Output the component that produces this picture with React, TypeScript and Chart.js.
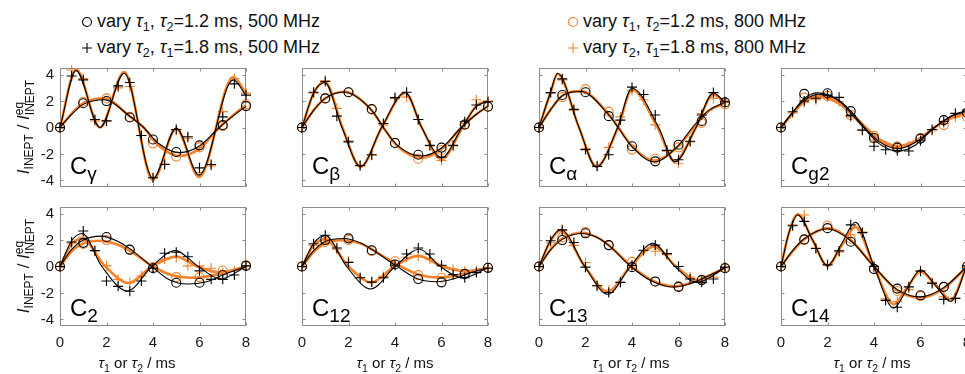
import React, { useEffect, useRef } from 'react';
import { Chart, registerables } from 'chart.js';

Chart.register(...registerables);

const FONT = '"Liberation Sans", Arial, Helvetica, sans-serif';
const ORANGE = '#F5822A';
const INK = '#000000';
const FRAME = '#8c8c8c';
const LABEL = '#1a1a1a';

// ---- axes / sampling ----
const TAU1 = [0, 1, 2, 3, 4, 5, 6, 7, 8];
const TAU2 = [0, 0.5, 1, 1.5, 2, 2.5, 3, 3.5, 4, 4.5, 5, 5.5, 6, 6.5, 7, 7.5, 8];
const X_TICKS = [0, 2, 4, 6, 8];
const Y_TICKS = [-4, -2, 0, 2, 4];
const X_MIN = 0, X_MAX = 8, Y_MIN = -4.5, Y_MAX = 4.5;

// ---- C gamma ----
const gammaCircK = [0, 1.83, 2.0, 0.76, -0.91, -1.85, -1.35, 0.18, 1.62];
const gammaCircO = [0, 1.95, 2.2, 0.8, -1.2, -2.2, -1.5, 0.1, 1.75];
const gammaPlusK = [0, 3.9, 3.6, 0.6, 0.5, 3.15, 3.4, -0.6, -3.8, -2.8, -0.15, -0.7, -3.05, -2.8, 0.8, 3.3, 2.45];
const gammaPlusO = [0, 4.35, 3.7, 0.5, 0.5, 3.0, 3.1, -0.6, -3.8, -2.75, -0.2, -0.8, -3.4, -2.9, 1.2, 3.7, 2.6];
const gammaFitCircK = [[0, 0], [0.5, 1.0], [1, 1.75], [1.9, 2.1], [3, 0.85], [3.6, 0], [4.2, -1.15], [5.15, -1.9], [6, -1.4], [6.85, 0], [7.5, 0.95], [8, 1.6]];
const gammaFitCircO = [[0, 0], [0.5, 1.05], [1, 1.85], [1.9, 2.2], [3, 0.85], [3.6, 0], [4.2, -1.3], [5.15, -2.15], [6, -1.6], [6.85, 0], [7.5, 1.0], [8, 1.7]];
const gammaFitPlusK = [[0, 0], [0.69, 4.3], [1.72, 0.0], [2.76, 4.1], [4.0, -3.85], [5.0, -0.05], [5.98, -3.6], [7.45, 3.6], [8, 2.4]];
const gammaFitPlusO = [[0, 0], [0.69, 4.4], [1.72, 0.0], [2.76, 4.2], [4.0, -3.95], [5.0, -0.1], [5.98, -3.75], [7.45, 3.8], [8, 2.6]];

// ---- C beta ----
const betaCircK = [0, 2.2, 2.67, 1.4, -1.17, -2.06, -1.52, 0.23, 1.57];
const betaCircO = [0, 2.2, 2.67, 1.35, -1.17, -2.36, -1.7, 0.2, 1.6];
const betaPlusK = [0, 2.67, 3.48, 0.86, -1.09, -2.87, -2.06, 0.3, 2.26, 2.67, 0.6, -1.35, -2.23, -1.35, 0.43, 1.7, 1.95];
const betaPlusO = [0, 2.6, 3.55, 1.45, -1.0, -2.9, -2.1, 0.2, 2.2, 2.3, 0.6, -1.4, -2.5, -1.4, 0.3, 2.1, 2.0];
const betaFitCircK = [[0, 0], [0.5, 1.3], [1, 2.2], [1.8, 2.68], [3, 1.3], [3.5, 0], [4.1, -1.35], [5.15, -2.15], [6, -1.55], [6.85, 0], [7.5, 1.0], [8, 1.6]];
const betaFitCircO = [[0, 0], [0.5, 1.3], [1, 2.2], [1.8, 2.7], [3, 1.3], [3.5, 0], [4.1, -1.4], [5.15, -2.3], [6, -1.65], [6.85, 0], [7.5, 1.0], [8, 1.65]];
const betaFitPlusK = [[0, 0], [0.5, 2.6], [0.98, 3.4], [1.72, 0], [2.52, -2.95], [3.42, 0], [4.44, 2.65], [5.15, 0], [6.0, -2.28], [6.88, 0], [7.5, 1.6], [8, 1.95]];
const betaFitPlusO = [[0, 0], [0.5, 2.6], [0.98, 3.45], [1.74, 0], [2.52, -2.98], [3.43, 0], [4.44, 2.6], [5.15, 0], [6.0, -2.4], [6.9, 0], [7.5, 1.65], [8, 2.0]];

// ---- C alpha ----
const alphaCircK = [0, 2.46, 2.67, 0.86, -1.42, -2.56, -1.3, 0.5, 1.9];
const alphaCircO = [0, 2.3, 2.9, 1.2, -1.67, -2.36, -1.5, 0.35, 1.75];
const alphaPlusK = [0, 2.64, 3.68, 1.37, -1.67, -2.94, -2.06, 0.56, 3.05, 2.5, 0.94, -1.73, -2.44, -1.04, 0.94, 2.64, 1.95];
const alphaPlusO = [0, 2.6, 3.6, 1.3, -1.6, -2.9, -1.5, 0.8, 2.8, 2.1, 0.2, -1.8, -2.7, -1.1, 1.05, 2.2, 1.9];
const alphaFitCircK = [[0, 0], [0.5, 1.35], [1, 2.4], [1.8, 2.72], [3, 0.95], [3.4, 0], [4, -1.45], [4.95, -2.6], [6, -1.35], [6.6, 0], [7.3, 1.3], [8, 1.9]];
const alphaFitCircO = [[0, 0], [0.5, 1.35], [1, 2.4], [1.8, 2.75], [3, 1.0], [3.42, 0], [4, -1.4], [4.95, -2.5], [6, -1.4], [6.65, 0], [7.3, 1.25], [8, 1.85]];
const alphaFitPlusK = [[0, 0], [0.5, 2.7], [0.8, 4.1], [1.72, 0], [2.47, -3.0], [3.38, 0], [4.0, 2.97], [5.15, 0], [5.84, -2.6], [6.75, 0], [7.5, 2.6], [8, 1.9]];
const alphaFitPlusO = [[0, 0], [0.5, 2.65], [0.8, 4.05], [1.72, 0], [2.47, -2.95], [3.4, 0], [4.0, 2.85], [5.1, 0], [5.84, -2.55], [6.75, 0], [7.5, 2.5], [8, 1.85]];

// ---- C g2 ----
const g2CircK = [0, 2.54, 2.59, 1.24, -0.79, -1.52, -0.84, 0.56, 1.12];
const g2CircO = [0, 2.26, 2.39, 0.94, -0.63, -1.42, -0.79, 0.18, 0.8];
const g2PlusK = [0, 1.19, 2.0, 2.21, 2.45, 2.28, 0.9, -0.2, -1.42, -1.68, -1.75, -1.78, -1.0, -0.15, 0.45, 1.07, 1.32];
const g2PlusO = [0, 1.1, 1.9, 2.1, 2.3, 1.95, 0.8, -0.2, -1.1, -1.4, -1.5, -1.4, -0.9, -0.25, 0.3, 0.8, 1.1];
const g2FitCircK = [[0, 0], [0.5, 1.15], [1, 2.2], [1.6, 2.62], [2.5, 2.05], [3, 1.25], [3.6, 0], [4.2, -1.05], [5.05, -1.6], [5.8, -1.1], [6.6, 0], [7.4, 0.9], [8, 1.25]];
const g2FitCircO = [[0, 0], [0.5, 1.05], [1, 2.0], [1.6, 2.38], [2.5, 1.85], [3, 1.1], [3.65, 0], [4.2, -0.85], [5.05, -1.4], [5.8, -1.0], [6.6, 0], [7.4, 0.75], [8, 1.05]];
const g2FitPlusK = [[0, 0], [0.5, 1.15], [1, 2.05], [1.6, 2.52], [2.5, 2.0], [3, 1.1], [3.55, 0], [4.2, -1.2], [5.05, -1.78], [5.8, -1.3], [6.6, 0], [7.4, 0.95], [8, 1.3]];
const g2FitPlusO = [[0, 0], [0.5, 1.05], [1, 1.95], [1.6, 2.32], [2.5, 1.8], [3, 1.05], [3.6, 0], [4.2, -0.95], [5.05, -1.45], [5.8, -1.05], [6.6, 0], [7.4, 0.8], [8, 1.1]];

// ---- C 2 ----
const c2CircK = [0, 1.79, 2.23, 1.28, -0.13, -1.23, -1.23, -0.64, 0.05];
const c2CircO = [0, 1.7, 2.0, 1.25, -0.05, -0.8, -0.8, -0.3, 0.1];
const c2PlusK = [0, 1.85, 2.69, 1.2, -1.1, -1.5, -1.87, -1.1, -0.13, 1.0, 1.08, 0.74, -0.33, -0.97, -0.97, -0.64, 0.05];
const c2PlusO = [0, 1.77, 2.23, 1.2, 0.05, -0.97, -1.23, -0.72, -0.1, 0.56, 0.69, 0.05, 0.05, -0.13, -0.46, -0.33, 0.05];
const c2FitCircK = [[0, 0], [0.5, 1.3], [1, 2.0], [1.75, 2.3], [2.5, 1.9], [3, 1.35], [3.95, 0], [4.7, -1.0], [5.5, -1.32], [6.3, -1.15], [7, -0.65], [8, 0]];
const c2FitCircO = [[0, 0], [0.5, 1.15], [1, 1.75], [1.6, 1.95], [2.5, 1.65], [3, 1.2], [4, 0], [4.8, -0.65], [5.7, -0.85], [6.5, -0.7], [7.2, -0.4], [8, 0]];
const c2FitPlusK = [[0, 0], [0.5, 1.95], [0.95, 2.5], [1.8, 0], [2.9, -1.85], [3.95, 0], [4.95, 1.2], [5.95, 0], [6.9, -0.95], [8, 0]];
const c2FitPlusO = [[0, 0], [0.5, 1.7], [0.95, 2.1], [1.95, 0], [2.95, -1.25], [3.95, 0], [5.0, 0.75], [5.9, 0], [6.9, -0.45], [8, 0]];

// ---- C 12 ----
const c12CircK = [0, 2.0, 2.13, 1.23, 0.15, -0.95, -1.2, -0.56, -0.1];
const c12CircO = [0, 1.85, 2.0, 1.15, 0.4, -0.65, -0.85, -0.55, -0.1];
const c12PlusK = [0, 1.72, 2.36, 1.4, 0.3, -0.85, -1.18, -0.85, 0.1, 0.95, 1.4, 0.95, 0.1, -0.6, -0.85, -0.46, -0.13];
const c12PlusO = [0, 1.6, 2.0, 1.3, 0.4, -0.85, -1.15, -0.75, 0.15, 0.7, 0.8, 0.55, 0.0, -0.2, -0.35, -0.3, -0.1];
const c12FitCircK = [[0, 0], [0.5, 1.2], [1, 1.9], [1.8, 2.12], [2.5, 1.8], [3, 1.3], [4.05, 0.05], [5, -0.95], [5.8, -1.15], [6.5, -0.95], [7.2, -0.5], [8, -0.1]];
const c12FitCircO = [[0, 0], [0.5, 1.1], [1, 1.75], [1.7, 1.98], [2.5, 1.75], [3, 1.3], [4.1, 0.15], [5, -0.6], [5.9, -0.82], [6.7, -0.65], [7.3, -0.4], [8, -0.1]];
const c12FitPlusK = [[0, 0], [0.5, 1.75], [1.0, 2.35], [1.92, 0], [2.95, -1.7], [4.0, 0], [5.05, 1.3], [5.95, 0], [6.9, -0.87], [8, -0.1]];
const c12FitPlusO = [[0, 0], [0.5, 1.6], [1.0, 2.05], [2.0, 0], [3.0, -1.2], [4.0, 0.05], [5.0, 0.8], [6.0, 0.05], [7.0, -0.35], [8, -0.1]];

// ---- C 13 ----
const c13CircK = [0, 2.0, 2.51, 1.62, -0.05, -1.13, -1.54, -1.03, -0.13];
const c13CircO = [0, 2.2, 2.6, 1.6, 0.35, -1.15, -1.5, -1.0, -0.1];
const c13PlusK = [0, 1.95, 2.77, 1.82, -0.05, -1.46, -1.97, -1.2, 0.08, 1.23, 1.62, 0.97, 0, -0.95, -1.2, -0.95, -0.05];
const c13PlusO = [0, 1.8, 2.7, 1.6, 0.3, -1.45, -1.8, -1.2, 0.1, 1.2, 1.15, 0.9, 0, -0.8, -1.0, -0.8, -0.1];
const c13FitCircK = [[0, 0], [0.5, 1.25], [1, 2.05], [1.85, 2.5], [2.5, 2.2], [3, 1.6], [3.95, 0], [4.8, -1.05], [5.8, -1.55], [6.6, -1.25], [7.3, -0.7], [8, -0.1]];
const c13FitCircO = [[0, 0], [0.5, 1.3], [1, 2.1], [1.85, 2.55], [2.5, 2.2], [3, 1.6], [4, 0], [4.8, -1.0], [5.8, -1.5], [6.6, -1.2], [7.3, -0.7], [8, -0.1]];
const c13FitPlusK = [[0, 0], [0.5, 2.0], [0.93, 2.8], [1.97, 0], [2.95, -2.1], [3.93, 0], [4.9, 1.75], [5.85, 0], [6.8, -1.2], [8, -0.1]];
const c13FitPlusO = [[0, 0], [0.5, 1.95], [0.93, 2.7], [1.97, 0], [2.95, -1.9], [3.93, 0], [4.95, 1.5], [5.9, 0], [6.85, -1.05], [8, -0.1]];

// ---- C 14 ----
const c14CircK = [0, 2.05, 2.9, 1.87, -0.18, -1.67, -2.18, -1.54, 0];
const c14CircO = [0, 2.0, 3.1, 2.1, -0.2, -1.85, -2.25, -1.55, 0];
const c14PlusK = [0, 3.08, 3.41, 1.36, 0.13, 1.18, 3.15, 2.56, 0, -2.56, -3.08, -1.54, -0.36, -1.28, -2.49, -2.41, 0.05];
const c14PlusO = [0, 3.15, 3.9, 1.4, 0.1, 1.1, 2.4, 2.6, 0, -2.45, -2.65, -1.75, -0.3, -1.2, -2.3, -2.4, 0.05];
const c14FitCircK = [[0, 0], [0.5, 1.2], [1, 2.1], [2.0, 2.85], [3, 1.95], [4, 0], [5, -1.75], [6, -2.3], [7, -1.6], [8, 0]];
const c14FitCircO = [[0, 0], [0.5, 1.15], [1, 2.05], [2.0, 2.9], [3, 2.0], [4, 0], [5, -1.8], [6, -2.35], [7, -1.65], [8, 0]];
const c14FitPlusK = [[0, 0], [0.35, 2.6], [0.72, 3.9], [1.36, 2.0], [2.0, 0.05], [2.6, 1.7], [3.2, 3.35], [4.0, 0], [4.85, -3.15], [5.42, -1.7], [6.0, -0.25], [6.65, -1.45], [7.3, -2.65], [8, 0.1]];
const c14FitPlusO = [[0, 0], [0.35, 2.6], [0.72, 3.95], [1.36, 2.0], [2.0, 0.05], [2.6, 1.55], [3.2, 3.0], [4.0, 0], [4.85, -2.85], [5.42, -1.6], [6.0, -0.4], [6.65, -1.4], [7.3, -2.5], [8, 0.1]];

type PanelData = {
  sub: string;
  circK: number[]; circO: number[]; plusK: number[]; plusO: number[];
  fitCircK: number[][]; fitCircO: number[][]; fitPlusK: number[][]; fitPlusO: number[][];
};

const PANELS: PanelData[] = [
  { sub: 'γ', circK: gammaCircK, circO: gammaCircO, plusK: gammaPlusK, plusO: gammaPlusO, fitCircK: gammaFitCircK, fitCircO: gammaFitCircO, fitPlusK: gammaFitPlusK, fitPlusO: gammaFitPlusO },
  { sub: 'β', circK: betaCircK, circO: betaCircO, plusK: betaPlusK, plusO: betaPlusO, fitCircK: betaFitCircK, fitCircO: betaFitCircO, fitPlusK: betaFitPlusK, fitPlusO: betaFitPlusO },
  { sub: 'α', circK: alphaCircK, circO: alphaCircO, plusK: alphaPlusK, plusO: alphaPlusO, fitCircK: alphaFitCircK, fitCircO: alphaFitCircO, fitPlusK: alphaFitPlusK, fitPlusO: alphaFitPlusO },
  { sub: 'g2', circK: g2CircK, circO: g2CircO, plusK: g2PlusK, plusO: g2PlusO, fitCircK: g2FitCircK, fitCircO: g2FitCircO, fitPlusK: g2FitPlusK, fitPlusO: g2FitPlusO },
  { sub: '2', circK: c2CircK, circO: c2CircO, plusK: c2PlusK, plusO: c2PlusO, fitCircK: c2FitCircK, fitCircO: c2FitCircO, fitPlusK: c2FitPlusK, fitPlusO: c2FitPlusO },
  { sub: '12', circK: c12CircK, circO: c12CircO, plusK: c12PlusK, plusO: c12PlusO, fitCircK: c12FitCircK, fitCircO: c12FitCircO, fitPlusK: c12FitPlusK, fitPlusO: c12FitPlusO },
  { sub: '13', circK: c13CircK, circO: c13CircO, plusK: c13PlusK, plusO: c13PlusO, fitCircK: c13FitCircK, fitCircO: c13FitCircO, fitPlusK: c13FitPlusK, fitPlusO: c13FitPlusO },
  { sub: '14', circK: c14CircK, circO: c14CircO, plusK: c14PlusK, plusO: c14PlusO, fitCircK: c14FitCircK, fitCircO: c14FitCircO, fitPlusK: c14FitPlusK, fitPlusO: c14FitPlusO },
];

// ---- layout ----
const PLOT_LEFT = [60, 302, 539, 781];
const PLOT_TOP = [68, 207];
const PLOT_W = 186;
const PLOT_H = 119;
const PAD_L = 50;
const PAD_T = 8;
const PAD_R = 12;
const PAD_B = [8, 30];
const XTITLE_CX = [137, 395, 631, 872];

const pts = (xs: number[], ys: number[]) => xs.map((x, i) => ({ x, y: ys[i] }));
const knots = (arr: number[][]) => arr.map(([x, y]) => ({ x, y }));

// frame, inward ticks and tick labels, all placed through the chart's own scales
const framePlugin = {
  id: 'frame',
  beforeDatasetsDraw(chart: any) {
    const { ctx, chartArea: a, scales } = chart;
    ctx.save();
    ctx.strokeStyle = FRAME;
    ctx.lineWidth = 1;
    const l = Math.round(a.left) + 0.5;
    const r = Math.round(a.right) - 0.5;
    const t = Math.round(a.top) + 0.5;
    const b = Math.round(a.bottom) - 0.5;
    ctx.strokeRect(l, t, r - l, b - t);
    ctx.beginPath();
    const TL = 3;
    for (const v of X_TICKS) {
      const x = Math.round(scales.x.getPixelForValue(v)) + 0.5;
      ctx.moveTo(x, b); ctx.lineTo(x, b - TL);
      ctx.moveTo(x, t); ctx.lineTo(x, t + TL);
    }
    for (const v of Y_TICKS) {
      const y = Math.round(scales.y.getPixelForValue(v)) + 0.5;
      ctx.moveTo(l, y); ctx.lineTo(l + TL, y);
      ctx.moveTo(r, y); ctx.lineTo(r - TL, y);
    }
    ctx.stroke();

    const opt = chart.options.plugins.frame || {};
    ctx.fillStyle = LABEL;
    ctx.font = '15px ' + FONT;
    if (opt.showX) {
      ctx.textAlign = 'center';
      ctx.textBaseline = 'middle';
      for (const v of X_TICKS) {
        ctx.fillText(String(v), scales.x.getPixelForValue(v), a.bottom + 17);
      }
    }
    if (opt.showY) {
      ctx.textAlign = 'right';
      ctx.textBaseline = 'middle';
      for (const v of Y_TICKS) {
        ctx.fillText(String(v), a.left - 6, scales.y.getPixelForValue(v) + 0.5);
      }
    }
    ctx.restore();
  },
};

function markerSet(data: any, style: string, color: string) {
  return {
    data,
    showLine: false,
    pointStyle: style,
    pointRadius: style === 'circle' ? 4.5 : 5,
    pointBorderWidth: 1.1,
    pointBorderColor: color,
    pointBackgroundColor: 'rgba(0,0,0,0)',
    borderColor: color,
    backgroundColor: 'rgba(0,0,0,0)',
    clip: false,
  };
}

function fitSet(data: any, color: string, width: number) {
  return {
    data,
    showLine: true,
    pointRadius: 0,
    borderColor: color,
    borderWidth: width,
    backgroundColor: 'rgba(0,0,0,0)',
    cubicInterpolationMode: 'monotone',
    fill: false,
    clip: false,
  };
}

function Panel({ p, idx }: { p: PanelData; idx: number }) {
  const row = Math.floor(idx / 4);
  const col = idx % 4;
  const W = PAD_L + PLOT_W + PAD_R;
  const H = PAD_T + PLOT_H + PAD_B[row];
  const ref = useRef<HTMLCanvasElement>(null);

  useEffect(() => {
    const chart = new Chart(ref.current as HTMLCanvasElement, {
      type: 'scatter',
      data: {
        datasets: [
          markerSet(pts(TAU1, p.circK), 'circle', INK),
          markerSet(pts(TAU2, p.plusK), 'cross', INK),
          fitSet(knots(p.fitCircK), INK, 1.1),
          fitSet(knots(p.fitPlusK), INK, 1.1),
          markerSet(pts(TAU1, p.circO), 'circle', ORANGE),
          markerSet(pts(TAU2, p.plusO), 'cross', ORANGE),
          fitSet(knots(p.fitCircO), ORANGE, 2.6),
          fitSet(knots(p.fitPlusO), ORANGE, 2.6),
        ] as any,
      },
      options: {
        responsive: false,
        animation: false,
        devicePixelRatio: 1,
        events: [],
        layout: { autoPadding: false, padding: { left: PAD_L, top: PAD_T, right: PAD_R, bottom: PAD_B[row] } },
        plugins: {
          legend: { display: false },
          tooltip: { enabled: false },
          frame: { showX: row === 1, showY: col === 0 },
        },
        scales: {
          x: { type: 'linear', display: false, min: X_MIN, max: X_MAX },
          y: { type: 'linear', display: false, min: Y_MIN, max: Y_MAX },
        },
      } as any,
      plugins: [framePlugin],
    });
    return () => chart.destroy();
  }, []);

  return (
    <canvas
      ref={ref}
      width={W}
      height={H}
      style={{ position: 'absolute', left: PLOT_LEFT[col] - PAD_L, top: PLOT_TOP[row] - PAD_T, width: W, height: H }}
    />
  );
}

const Tau = ({ n }: { n: string }) => (
  <>
    <i>τ</i>
    <span style={{ fontSize: '0.7em', position: 'relative', top: '0.35em' }}>{n}</span>
  </>
);

function Marker({ kind, color }: { kind: string; color: string }) {
  return (
    <svg width={12} height={12} style={{ position: 'absolute', left: -6, top: -6, overflow: 'visible' }}>
      {kind === 'circle' ? (
        <circle cx={6} cy={6} r={4.5} fill="none" stroke={color} strokeWidth={1.1} />
      ) : (
        <path d="M1 6H11M6 1V11" stroke={color} strokeWidth={1.1} fill="none" />
      )}
    </svg>
  );
}

function LegendItem({ x, y, kind, color, children }: any) {
  return (
    <>
      <div style={{ position: 'absolute', left: x, top: y }}>
        <Marker kind={kind} color={color} />
      </div>
      <div style={{ position: 'absolute', left: x + 10, top: y - 12, lineHeight: '22px', fontSize: 18, whiteSpace: 'nowrap', color: '#111' }}>
        {children}
      </div>
    </>
  );
}

function YTitle({ cy }: { cy: number }) {
  return (
    <div
      style={{
        position: 'absolute', left: 24, top: cy, transform: 'translate(-50%, -50%) rotate(-90deg)',
        whiteSpace: 'nowrap', fontSize: 17, lineHeight: '22px', color: '#111',
      }}
    >
      <i>I</i>
      <span style={{ fontSize: 12, position: 'relative', top: 4 }}>INEPT</span>
      <span> / </span>
      <i>I</i>
      <span style={{ display: 'inline-flex', flexDirection: 'column', fontSize: 12, lineHeight: '11px', verticalAlign: 6 }}>
        <span>eq</span>
        <span>INEPT</span>
      </span>
    </div>
  );
}

export default function App() {
  return (
    <div
      style={{
        position: 'absolute', left: 0, top: 0, width: 965, height: 374, overflow: 'hidden',
        background: '#fff', fontFamily: FONT,
      }}
    >
      <LegendItem x={87} y={22} kind="circle" color={INK}>vary <Tau n="1" />, <Tau n="2" />=1.2 ms, 500 MHz</LegendItem>
      <LegendItem x={87} y={48} kind="cross" color={INK}>vary <Tau n="2" />, <Tau n="1" />=1.8 ms, 500 MHz</LegendItem>
      <LegendItem x={573} y={22} kind="circle" color={ORANGE}>vary <Tau n="1" />, <Tau n="2" />=1.2 ms, 800 MHz</LegendItem>
      <LegendItem x={573} y={48} kind="cross" color={ORANGE}>vary <Tau n="2" />, <Tau n="1" />=1.8 ms, 800 MHz</LegendItem>

      {PANELS.map((p, i) => (
        <Panel key={i} p={p} idx={i} />
      ))}

      {PANELS.map((p, i) => {
        const row = Math.floor(i / 4);
        const col = i % 4;
        const baseline = PLOT_TOP[row] + PLOT_H - (row === 0 ? 13 : 10);
        return (
          <div
            key={'lab' + i}
            style={{ position: 'absolute', left: PLOT_LEFT[col] + 10, top: baseline - 20, fontSize: 24, lineHeight: '24px', whiteSpace: 'nowrap', color: '#000' }}
          >
            C<span style={{ fontSize: 19, position: 'relative', top: 6 }}>{p.sub}</span>
          </div>
        );
      })}

      <YTitle cy={127} />
      <YTitle cy={266} />

      {XTITLE_CX.map((cx, i) => (
        <div
          key={'xt' + i}
          style={{ position: 'absolute', left: cx, top: 363, transform: 'translate(-50%, -50%)', whiteSpace: 'nowrap', fontSize: 15, lineHeight: '20px', color: '#111' }}
        >
          <Tau n="1" /> or <Tau n="2" /> / ms
        </div>
      ))}
    </div>
  );
}
